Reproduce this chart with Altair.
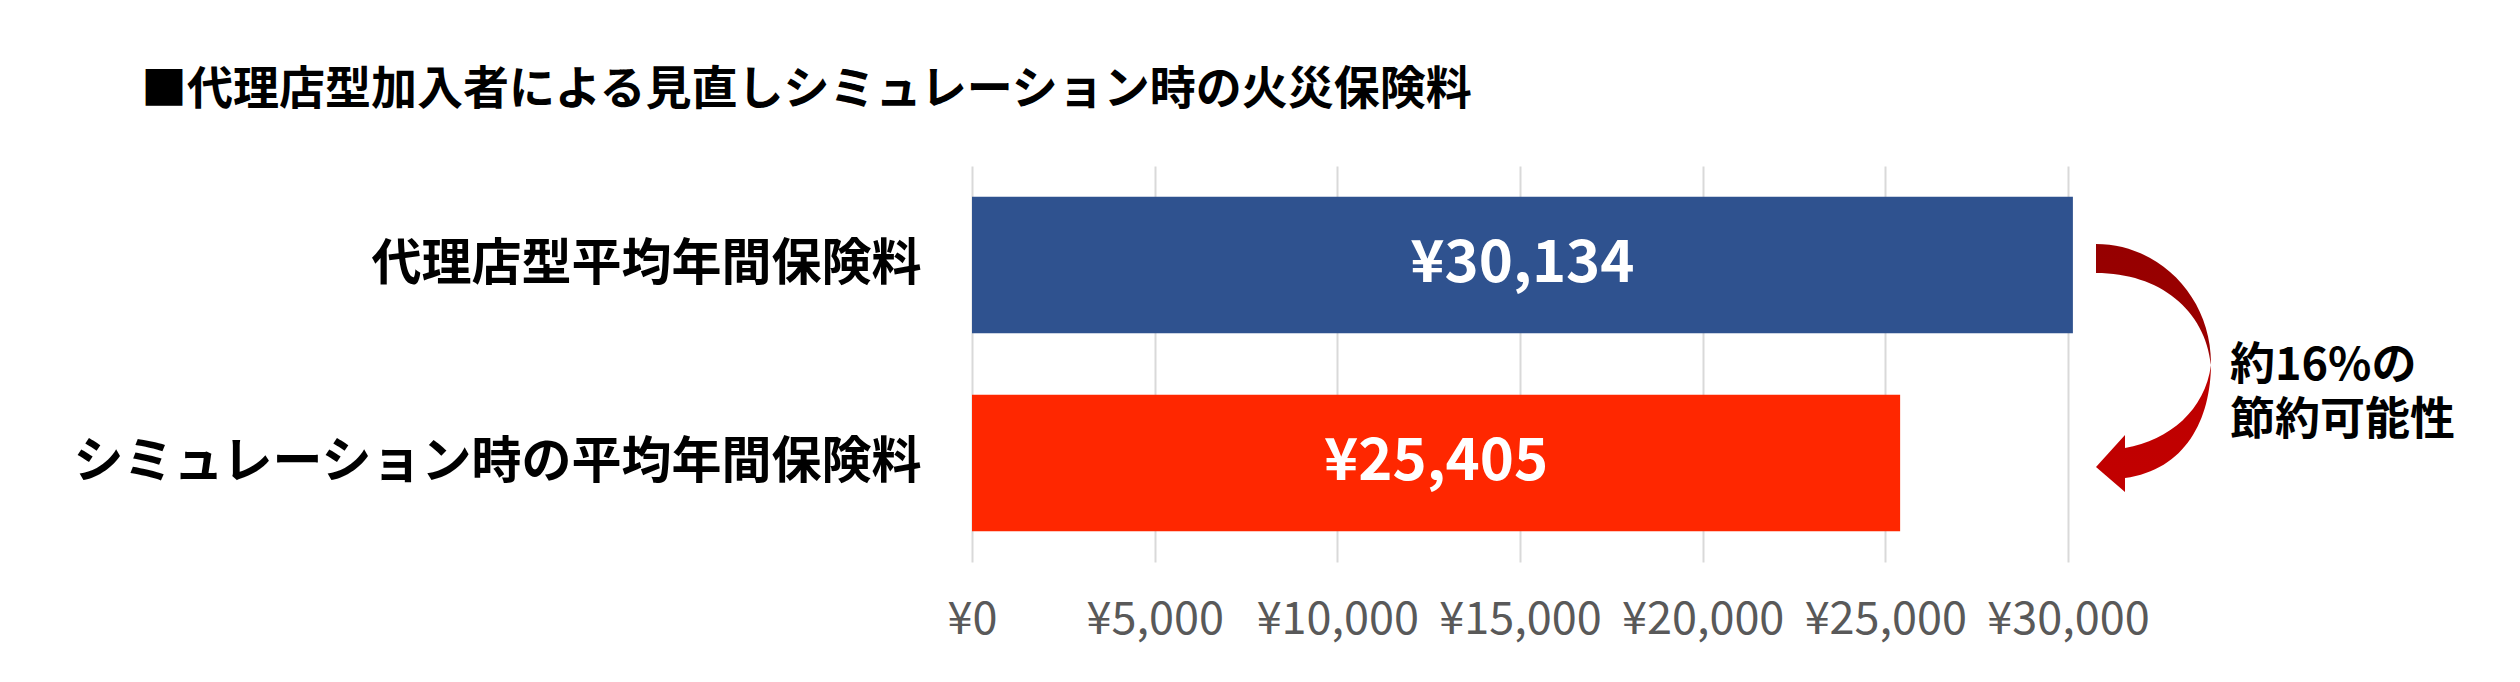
import altair as alt
import pandas as pd

# ---- data ----
categories = ["代理店型平均年間保険料", "シミュレーション時の平均年間保険料"]
values = [30134, 25405]
bar_colors = ["#2F528F", "#FF2700"]
x_ticks = [0, 5000, 10000, 15000, 20000, 25000, 30000]
title_text = "■代理店型加入者による見直しシミュレーション時の火災保険料"
note_lines = ["約16%の", "節約可能性"]

df = pd.DataFrame({"category": categories, "value": values, "color": bar_colors})
one = pd.DataFrame({"k": [0]})

JP = "Noto Sans CJK JP"

# curved arrow outline (unit box -1..1), drawn as a custom symbol shape
ARROW_PATH = (
    "M-0.46,-0.992 C0.048,-0.992 0.46,-0.566 0.46,-0.04 "
    "C0.46,0.416 0.252,0.816 -0.228,0.88 "
    "L-0.228,0.992 L-0.46,0.792 L-0.228,0.536 L-0.228,0.64 "
    "C0.132,0.576 0.412,0.336 0.46,-0.024 "
    "C0.412,-0.464 0.052,-0.76 -0.46,-0.76 Z"
)

x_enc = alt.X(
    "value:Q",
    scale=alt.Scale(domain=[0, 30000], nice=False, zero=True),
    axis=alt.Axis(
        values=x_ticks,
        labelExpr="'¥' + format(datum.value, ',')",
        title=None,
        grid=True,
        gridColor="#D9D9D9",
        gridWidth=2,
        domain=False,
        ticks=False,
        labelFont=JP,
        labelFontSize=45,
        labelColor="#595959",
        labelPadding=35,
        labelOverlap=False,
        labelFlush=False,
        labelLimit=1000,
    ),
)
y_enc = alt.Y(
    "category:N",
    sort=categories,
    scale=alt.Scale(paddingInner=0.31, paddingOuter=0.155),
    axis=alt.Axis(
        title=None,
        domain=False,
        ticks=False,
        labelFont=JP,
        labelFontSize=50,
        labelFontWeight="bold",
        labelColor="black",
        labelPadding=51,
        labelLimit=1000,
    ),
)

base = alt.Chart(df)
bars = base.mark_bar().encode(x=x_enc, y=y_enc, color=alt.Color("color:N", scale=None))
labels = base.transform_calculate(
    mid="datum.value / 2", label="'¥' + format(datum.value, ',')"
).mark_text(font=JP, fontSize=58, fontWeight="bold", color="white", baseline="middle").encode(
    x="mid:Q", y=alt.Y("category:N", sort=categories), text="label:N"
)

grad = alt.LinearGradient(
    gradient="linear",
    stops=[
        alt.GradientStop(color="#960000", offset=0),
        alt.GradientStop(color="#9C0000", offset=0.46),
        alt.GradientStop(color="#BD0000", offset=0.54),
        alt.GradientStop(color="#C20000", offset=1),
    ],
    x1=0, x2=0, y1=0, y2=1,
)
arrow = alt.Chart(one).mark_point(
    shape=ARROW_PATH, size=62500, filled=True, fill=grad, opacity=1, strokeWidth=0
).encode(x=alt.value(1181.5), y=alt.value(202))

note1 = alt.Chart(pd.DataFrame({"line": [note_lines[0]]})).mark_text(
    font=JP, fontSize=45, fontWeight="bold", align="left", baseline="middle", color="black"
).encode(x=alt.value(1258), y=alt.value(200), text="line:N")
note2 = alt.Chart(pd.DataFrame({"line": [note_lines[1]]})).mark_text(
    font=JP, fontSize=45, fontWeight="bold", align="left", baseline="middle", color="black"
).encode(x=alt.value(1258), y=alt.value(255), text="line:N")

chart = alt.layer(bars, labels, arrow, note1, note2).properties(
    width=1096,
    height=396,
    padding={"left": 964, "top": 158, "right": 430, "bottom": 100},
    autosize=alt.AutoSizeParams(type="none"),
    title=alt.TitleParams(
        text=title_text, font=JP, fontSize=46, fontWeight="bold", color="black",
        anchor="start", frame="group", dx=-831, baseline="alphabetic", offset=16,
    ),
).configure_view(stroke=None)

chart.save("out.html", embed_options={"renderer": "svg", "actions": False})
